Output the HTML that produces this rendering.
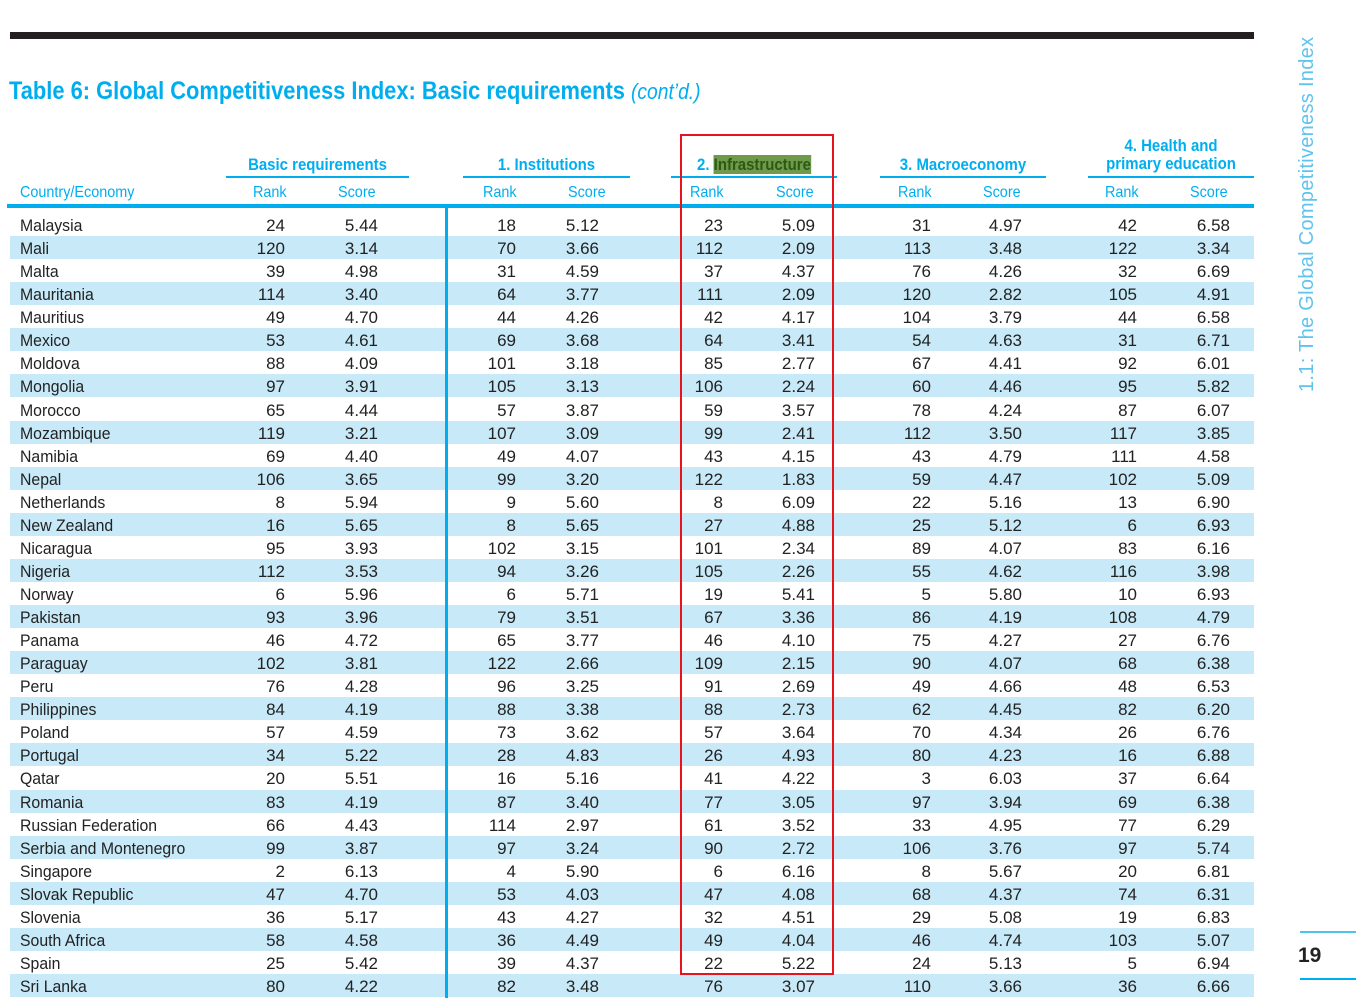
<!DOCTYPE html>
<html><head><meta charset="utf-8"><style>
body{margin:0;width:1356px;height:998px;background:#fff;position:relative;overflow:hidden;font-family:"Liberation Sans",sans-serif;}
.a{position:absolute;white-space:nowrap}
.b{color:#00aeef}
.h{font-weight:bold;font-size:17px;color:#00aeef;text-align:center;transform:scaleX(0.88);transform-origin:50% 0}
.sub{font-size:16px;color:#00aeef;transform:scaleX(0.9);transform-origin:0 0}
.row{position:absolute;left:10px;width:1244px;height:23px;font-size:17px;color:#222}
.row.s{background:#c7e9f8}
.row span{position:absolute;top:3px}
.c{transform:scaleX(0.93);transform-origin:0 0}
.n{text-align:right;width:60px}
</style></head><body>
<div class="a" style="left:10px;top:32px;width:1244px;height:7px;background:#231f20"></div>
<div class="a b" style="left:9px;top:77px;font-size:25px;font-weight:bold;transform:scaleX(0.875);transform-origin:0 0">Table 6: Global Competitiveness Index: Basic requirements <span style="font-weight:normal;font-style:italic;font-size:22px">(cont’d.)</span></div>

<div class="a h" style="left:226px;width:183px;top:155px">Basic requirements</div>
<div class="a" style="left:226px;width:183px;top:176px;height:2px;background:#00aeef"></div>
<div class="a h" style="left:463px;width:167px;top:155px">1. Institutions</div>
<div class="a" style="left:463px;width:167px;top:176px;height:2px;background:#00aeef"></div>
<div class="a h" style="left:671px;width:166px;top:155px">2. <span style="background:#6f9a4c;color:#2c5a12">Infrastructure</span></div>
<div class="a" style="left:671px;width:166px;top:176px;height:2px;background:#00aeef"></div>
<div class="a h" style="left:880px;width:166px;top:155px">3. Macroeconomy</div>
<div class="a" style="left:880px;width:166px;top:176px;height:2px;background:#00aeef"></div>
<div class="a h" style="left:1088px;width:166px;top:137px;line-height:18px">4. Health and<br>primary education</div>
<div class="a" style="left:1088px;width:166px;top:176px;height:2px;background:#00aeef"></div>

<div class="a sub" style="left:20px;top:184px">Country/Economy</div>
<div class="a sub" style="left:253px;top:184px">Rank</div><div class="a sub" style="left:338px;top:184px">Score</div>
<div class="a sub" style="left:483px;top:184px">Rank</div><div class="a sub" style="left:568px;top:184px">Score</div>
<div class="a sub" style="left:690px;top:184px">Rank</div><div class="a sub" style="left:776px;top:184px">Score</div>
<div class="a sub" style="left:898px;top:184px">Rank</div><div class="a sub" style="left:983px;top:184px">Score</div>
<div class="a sub" style="left:1105px;top:184px">Rank</div><div class="a sub" style="left:1190px;top:184px">Score</div>
<div class="a" style="left:7px;top:204px;width:1247px;height:4px;background:#00aeef"></div>

<div id="rows"></div>
<div class="a" style="left:445px;top:208px;width:3px;height:790px;background:#00aeef"></div>
<div class="a" style="left:680px;top:134px;width:150px;height:837px;border:2px solid #e8141c"></div>

<div class="a" style="left:1296px;top:392px;transform-origin:0 0;transform:rotate(-90deg);font-size:20px;color:#5fc3ee;letter-spacing:0.3px">1.1: The Global Competitiveness Index</div>
<div class="a" style="left:1300px;top:931px;width:56px;height:2px;background:#4fc3ee"></div>
<div class="a" style="left:1298px;top:944px;font-size:21px;font-weight:bold;color:#222">19</div>
<div class="a" style="left:1300px;top:978px;width:56px;height:2px;background:#00aeef"></div>

<script>
var d=[
["Malaysia",24,"5.44",18,"5.12",23,"5.09",31,"4.97",42,"6.58"],
["Mali",120,"3.14",70,"3.66",112,"2.09",113,"3.48",122,"3.34"],
["Malta",39,"4.98",31,"4.59",37,"4.37",76,"4.26",32,"6.69"],
["Mauritania",114,"3.40",64,"3.77",111,"2.09",120,"2.82",105,"4.91"],
["Mauritius",49,"4.70",44,"4.26",42,"4.17",104,"3.79",44,"6.58"],
["Mexico",53,"4.61",69,"3.68",64,"3.41",54,"4.63",31,"6.71"],
["Moldova",88,"4.09",101,"3.18",85,"2.77",67,"4.41",92,"6.01"],
["Mongolia",97,"3.91",105,"3.13",106,"2.24",60,"4.46",95,"5.82"],
["Morocco",65,"4.44",57,"3.87",59,"3.57",78,"4.24",87,"6.07"],
["Mozambique",119,"3.21",107,"3.09",99,"2.41",112,"3.50",117,"3.85"],
["Namibia",69,"4.40",49,"4.07",43,"4.15",43,"4.79",111,"4.58"],
["Nepal",106,"3.65",99,"3.20",122,"1.83",59,"4.47",102,"5.09"],
["Netherlands",8,"5.94",9,"5.60",8,"6.09",22,"5.16",13,"6.90"],
["New Zealand",16,"5.65",8,"5.65",27,"4.88",25,"5.12",6,"6.93"],
["Nicaragua",95,"3.93",102,"3.15",101,"2.34",89,"4.07",83,"6.16"],
["Nigeria",112,"3.53",94,"3.26",105,"2.26",55,"4.62",116,"3.98"],
["Norway",6,"5.96",6,"5.71",19,"5.41",5,"5.80",10,"6.93"],
["Pakistan",93,"3.96",79,"3.51",67,"3.36",86,"4.19",108,"4.79"],
["Panama",46,"4.72",65,"3.77",46,"4.10",75,"4.27",27,"6.76"],
["Paraguay",102,"3.81",122,"2.66",109,"2.15",90,"4.07",68,"6.38"],
["Peru",76,"4.28",96,"3.25",91,"2.69",49,"4.66",48,"6.53"],
["Philippines",84,"4.19",88,"3.38",88,"2.73",62,"4.45",82,"6.20"],
["Poland",57,"4.59",73,"3.62",57,"3.64",70,"4.34",26,"6.76"],
["Portugal",34,"5.22",28,"4.83",26,"4.93",80,"4.23",16,"6.88"],
["Qatar",20,"5.51",16,"5.16",41,"4.22",3,"6.03",37,"6.64"],
["Romania",83,"4.19",87,"3.40",77,"3.05",97,"3.94",69,"6.38"],
["Russian Federation",66,"4.43",114,"2.97",61,"3.52",33,"4.95",77,"6.29"],
["Serbia and Montenegro",99,"3.87",97,"3.24",90,"2.72",106,"3.76",97,"5.74"],
["Singapore",2,"6.13",4,"5.90",6,"6.16",8,"5.67",20,"6.81"],
["Slovak Republic",47,"4.70",53,"4.03",47,"4.08",68,"4.37",74,"6.31"],
["Slovenia",36,"5.17",43,"4.27",32,"4.51",29,"5.08",19,"6.83"],
["South Africa",58,"4.58",36,"4.49",49,"4.04",46,"4.74",103,"5.07"],
["Spain",25,"5.42",39,"4.37",22,"5.22",24,"5.13",5,"6.94"],
["Sri Lanka",80,"4.22",82,"3.48",76,"3.07",110,"3.66",36,"6.66"]];
var R=[285,378,516,599,723,815,931,1022,1137,1230];
var h="";
d.forEach(function(r,i){
 var t=(213+i*23.06).toFixed(1);
 h+='<div class="row'+(i%2?' s':'')+'" style="top:'+t+'px"><span class="c" style="left:10px">'+r[0]+'</span>';
 for(var j=1;j<11;j++)h+='<span class="n" style="left:'+(R[j-1]-10-60)+'px">'+r[j]+'</span>';
 h+='</div>';
});
document.getElementById("rows").innerHTML=h;
</script>
</body></html>
